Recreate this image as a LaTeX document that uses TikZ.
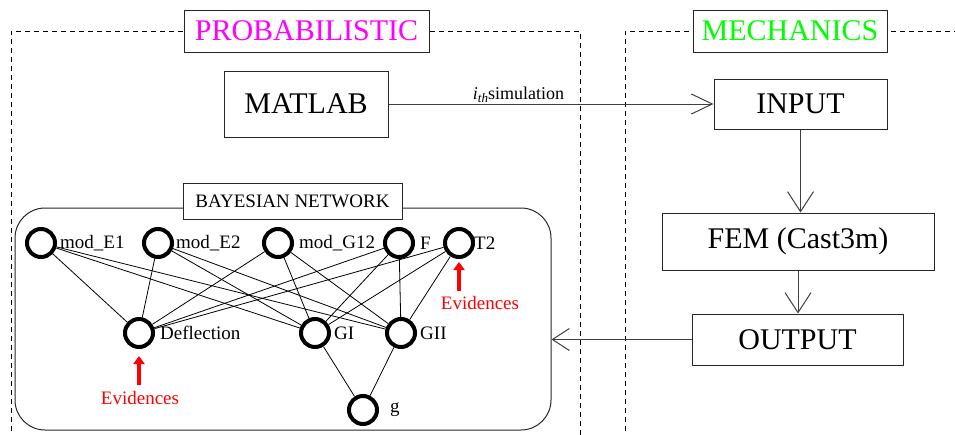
\documentclass[tikz,border=0pt]{standalone}
\usepackage{fontspec}
\setmainfont{Liberation Serif}
\usetikzlibrary{arrows.meta}
\definecolor{probcol}{RGB}{255,0,255}
\definecolor{mechcol}{RGB}{0,255,0}
\definecolor{evcol}{RGB}{255,0,0}
\begin{document}
\begin{tikzpicture}[x=1pt,y=-1pt,
  box/.style={draw=black!85, line width=1pt, inner sep=0pt, font=\fontsize{30}{34}\selectfont},
  titlebox/.style={draw=black!85, line width=1pt, fill=white, inner sep=0pt, font=\fontsize{30}{34}\selectfont},
  frame/.style={line width=0.9pt, dash pattern=on 5pt off 4pt},
  arr/.style={draw=black!75, line width=1pt, -{Straight Barb[length=20pt,width=26pt]}},
  bnode/.style={circle, draw, line width=4pt, minimum size=28pt, inner sep=0pt},
  lbl/.style={font=\fontsize{19}{22}\selectfont, inner sep=0pt},
  edge/.style={line width=0.8pt},
  evtext/.style={text=evcol, font=\fontsize{19}{22}\selectfont, inner sep=0pt},
  evarrow/.style={draw=evcol, line width=4.5pt, -{Triangle[length=8pt,width=11pt]}}
]
\useasboundingbox (0,0) rectangle (955,434);

% dashed frames
\draw[frame] (11,440) -- (11,31) -- (580,31) -- (580,440);
\draw[frame] (625,440) -- (625,31) -- (965,31);

% titles
\node[titlebox, minimum width=245pt, minimum height=42pt, text=probcol] (prob) at (306.5,31) {PROBABILISTIC};
\node[titlebox, minimum width=194pt, minimum height=42pt, text=mechcol] (mech) at (790,31) {MECHANICS};

% process boxes
\node[box, minimum width=164pt, minimum height=66pt] (matlab) at (306,104) {MATLAB};
\node[box, minimum width=173pt, minimum height=50pt] (input) at (800.5,104) {INPUT};
\node[box, minimum width=272pt, minimum height=57pt] (fem) at (798,241.5) {FEM (Cast3m)};
\node[box, minimum width=211pt, minimum height=51pt] (output) at (797.5,339.5) {OUTPUT};

% Bayesian network container
\node[draw=black!85, line width=1pt, rounded corners=30pt, minimum width=536pt, minimum height=222pt, inner sep=0pt] (bn) at (283,319) {};
\node[titlebox, minimum width=219pt, minimum height=36pt, font=\fontsize{19}{22}\selectfont] (bntitle) at (292.5,201) {BAYESIAN NETWORK};

% arrows between process steps
\draw[arr, -{Straight Barb[length=21pt,width=20pt]}] (matlab.east) -- node[pos=0.4, above=1pt, font=\fontsize{18}{20}\selectfont, inner sep=0pt] (simlabel) {\textit{i}\raisebox{-0.35ex}{\fontsize{13}{13}\selectfont\textit{th}}simulation} (input.west);
\draw[arr] (input.south) -- (input.south |- fem.north);
\draw[arr] (fem.south) -- (fem.south |- output.north);
\draw[arr, -{Straight Barb[length=17pt,width=22pt]}] (output.west) -- (output.west -| bn.east);

% network nodes
\node[bnode, label={[lbl, label distance=3pt]right:mod\_E1}] (e1) at (41,243) {};
\node[bnode, label={[lbl, label distance=2pt]right:mod\_E2}] (e2) at (158,243) {};
\node[bnode, label={[lbl, label distance=5pt]right:mod\_G12}] (g12) at (278,243) {};
\node[bnode, label={[lbl, label distance=5pt]right:F}] (f) at (399,243) {};
\node[bnode, label={[lbl, label distance=-1pt]right:T2}] (t2) at (459,243) {};
\node[bnode, label={[lbl, label distance=5pt]right:Deflection}] (defl) at (139,333) {};
\node[bnode, label={[lbl, label distance=3pt]right:GI}] (gi) at (315,333) {};
\node[bnode, label={[lbl, label distance=3pt]right:GII}] (gii) at (401,333) {};
\node[bnode, label={[lbl, label distance=11pt]right:g}] (g) at (363,410) {};

\foreach \s in {e1,e2,g12,f,t2}
  \foreach \t in {defl,gi,gii}
    \draw[edge] (\s) -- (\t);
\draw[edge] (gi) -- (g);
\draw[edge] (gii) -- (g);

% evidences
\node[evtext] (ev1) at (140,397.5) {Evidences};
\node[evtext] (ev2) at (480,302.5) {Evidences};
\draw[evarrow, shorten <=6pt, shorten >=7pt] (defl.south |- ev1.north) -- (defl.south);
\draw[evarrow, shorten <=5pt, shorten >=3pt] (t2.south |- ev2.north) -- (t2.south);
\end{tikzpicture}
\end{document}
